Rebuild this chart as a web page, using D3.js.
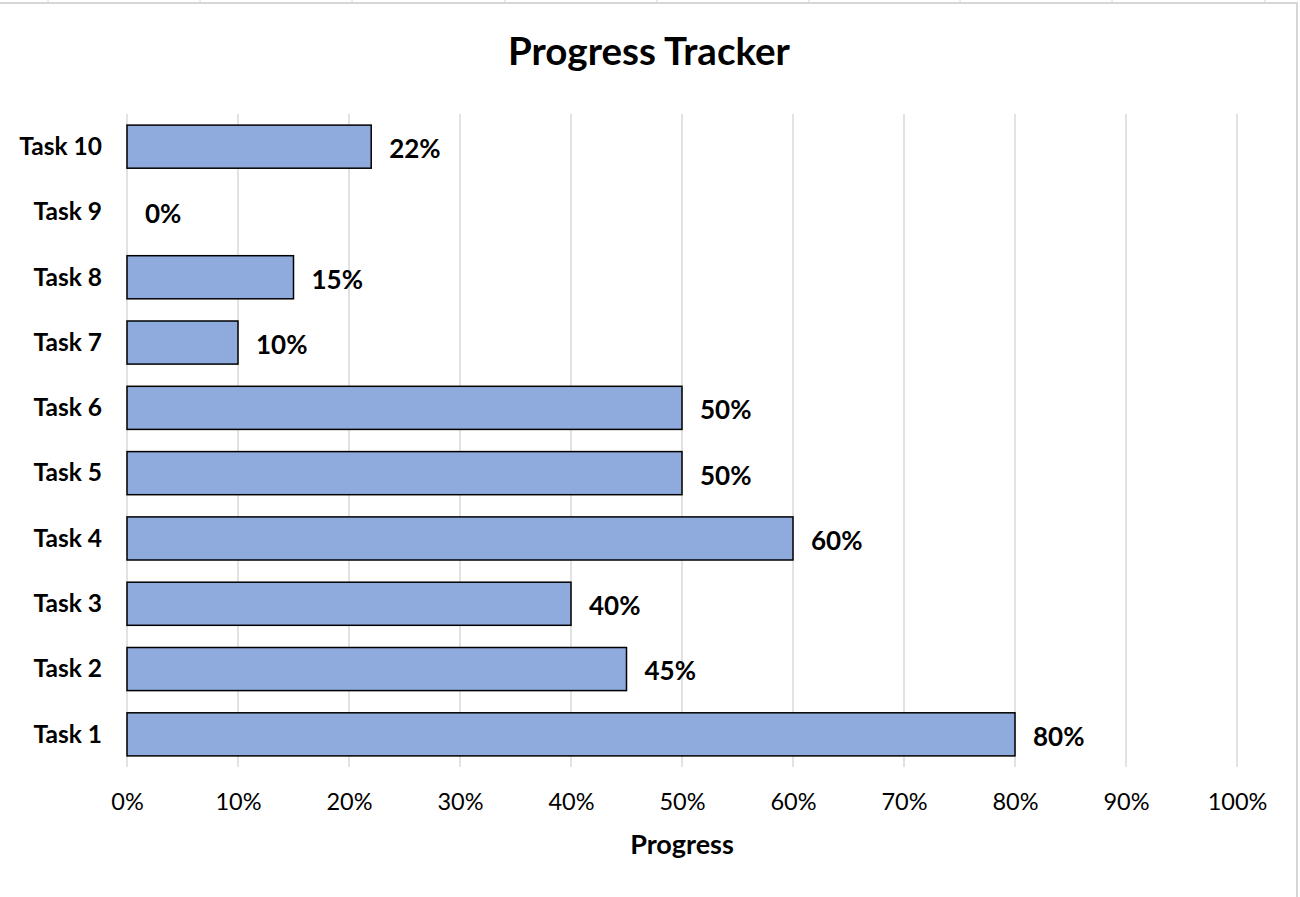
<!DOCTYPE html>
<html>
<head>
<meta charset="utf-8">
<script src="https://cdn.jsdelivr.net/npm/d3@7"></script>
<style>
  html, body { margin: 0; padding: 0; background: #fff; }
  svg { display: block; font-family: Lato, "Open Sans", sans-serif; }
</style>
</head>
<body>
<svg id="chart" width="1300" height="897"></svg>
<script>
const categories = ["Task 1", "Task 2", "Task 3", "Task 4", "Task 5", "Task 6", "Task 7", "Task 8", "Task 9", "Task 10"];
const progress = [0.80, 0.45, 0.40, 0.60, 0.50, 0.50, 0.10, 0.15, 0.00, 0.22];
const xTicks = [0, 0.1, 0.2, 0.3, 0.4, 0.5, 0.6, 0.7, 0.8, 0.9, 1.0];
const title = "Progress Tracker";
const xTitle = "Progress";

const svg = d3.select("#chart");
const W = 1300, H = 897;
const m = { left: 127, right: 1237, top: 114, bottom: 767 };

// spreadsheet frame decoration
const sheetCols = [48, 200, 352, 505, 657, 809, 960, 1112, 1265];
svg.append("line").attr("x1", 0).attr("x2", 1298).attr("y1", 3).attr("y2", 3)
  .attr("stroke", "#d6d6d6").attr("stroke-width", 2);
svg.selectAll(".sc").data(sheetCols).enter().append("line")
  .attr("x1", d => d).attr("x2", d => d).attr("y1", 0).attr("y2", 3)
  .attr("stroke", "#d6d6d6").attr("stroke-width", 1);
svg.append("line").attr("x1", 1297).attr("x2", 1297).attr("y1", 3).attr("y2", H)
  .attr("stroke", "#d6d6d6").attr("stroke-width", 2);

const x = d3.scaleLinear().domain([0, 1]).range([m.left, m.right]);
const y = d3.scaleBand().domain(categories.slice().reverse())
  .range([m.top, m.bottom]).paddingInner(0.34).paddingOuter(0.17);

// gridlines
svg.append("g").selectAll("line").data(xTicks).enter().append("line")
  .attr("x1", d => x(d)).attr("x2", d => x(d))
  .attr("y1", m.top).attr("y2", m.bottom)
  .attr("stroke", "#d9d9d9").attr("stroke-width", 1.5);

// bars
const data = categories.map((c, i) => ({ c, v: progress[i] }));
svg.append("g").selectAll("rect").data(data.filter(d => d.v > 0)).enter().append("rect")
  .attr("x", x(0)).attr("y", d => y(d.c))
  .attr("width", d => x(d.v) - x(0)).attr("height", y.bandwidth())
  .attr("fill", "#8faadc").attr("stroke", "#000").attr("stroke-width", 1.5);

// data labels
svg.append("g").selectAll("text").data(data).enter().append("text")
  .attr("x", d => x(d.v) + 18).attr("y", d => y(d.c) + y.bandwidth() / 2 + 2)
  .attr("dy", "0.36em")
  .attr("font-size", 26).attr("font-weight", "bold").attr("fill", "#000")
  .text(d => d3.format(".0%")(d.v));

// y axis labels
const yAxis = d3.axisLeft(y).tickSize(0).tickPadding(25);
const gy = svg.append("g").attr("transform", `translate(${m.left},0)`).call(yAxis);
gy.select(".domain").remove();
gy.selectAll("text").attr("font-size", 24.5).attr("font-weight", "bold")
  .attr("font-family", "Lato, sans-serif").attr("fill", "#000").attr("dy", "0.34em");

// x axis labels
const xAxis = d3.axisBottom(x).tickValues(xTicks).tickSize(0).tickPadding(0).tickFormat(d3.format(".0%"));
const gx = svg.append("g").attr("transform", `translate(0,${m.bottom})`).call(xAxis);
gx.select(".domain").remove();
gx.selectAll("text").attr("font-size", 23.5).attr("font-family", "Lato, sans-serif")
  .attr("fill", "#000").attr("dy", null).attr("y", 43);

// titles
svg.append("text").attr("x", 649).attr("y", 65).attr("text-anchor", "middle")
  .attr("font-size", 38.5).attr("font-weight", "bold").attr("fill", "#000").text(title);
svg.append("text").attr("x", 682).attr("y", 854).attr("text-anchor", "middle")
  .attr("font-size", 27).attr("font-weight", "bold").attr("fill", "#000").text(xTitle);
</script>
</body>
</html>
